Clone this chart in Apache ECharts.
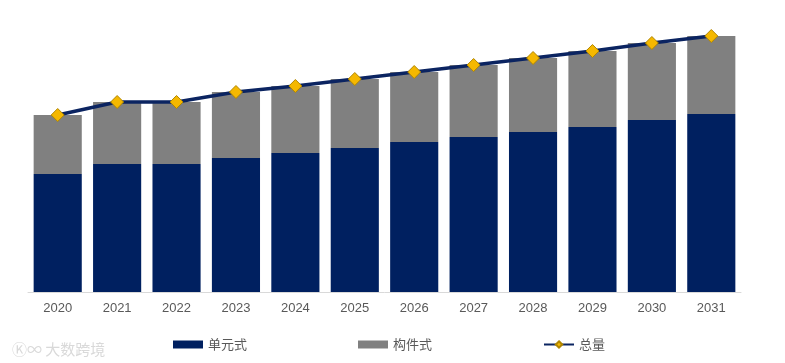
<!DOCTYPE html>
<html>
<head>
<meta charset="utf-8">
<script src="https://cdn.jsdelivr.net/npm/echarts@6/dist/echarts.min.js"></script>
<style>html,body{margin:0;padding:0;background:#fff}#c{width:785px;height:363px}</style>
</head>
<body>
<div id="c"></div>
<script>
const categories = ['2020','2021','2022','2023','2024','2025','2026','2027','2028','2029','2030','2031'];
const unitized = [11.8, 12.8, 12.8, 13.4, 13.9, 14.4, 15.0, 15.5, 16.0, 16.5, 17.2, 17.8];
const component = [5.9, 6.2, 6.2, 6.6, 6.7, 6.9, 7.0, 7.2, 7.4, 7.6, 7.7, 7.8];
const total = [17.7, 19.0, 19.0, 20.0, 20.6, 21.3, 22.0, 22.7, 23.4, 24.1, 24.9, 25.6];

const chart = echarts.init(document.getElementById('c'));
chart.setOption({
  animation: false,
  grid: { left: 28, right: 44, top: 22, bottom: 71 },
  legend: {
    bottom: 7,
    left: 168,
    itemGap: 111,
    itemWidth: 30,
    itemHeight: 8,
    textStyle: { color: '#595959', fontSize: 13, fontFamily: 'Noto Sans CJK SC' },
    data: [
      { name: '单元式', icon: 'rect' },
      { name: '构件式', icon: 'rect' },
      { name: '总量' }
    ]
  },
  xAxis: {
    type: 'category',
    data: categories,
    axisLine: { lineStyle: { color: '#d9d9d9', width: 1 } },
    axisTick: { show: false },
    axisLabel: { color: '#595959', fontSize: 13, margin: 10, fontFamily: 'Liberation Sans' }
  },
  yAxis: {
    type: 'value',
    min: 0,
    max: 27,
    show: false,
    splitLine: { show: false }
  },
  graphic: [{
    type: 'text',
    left: 12,
    bottom: 6,
    style: { text: 'Ⓚ∞ 大数跨境', fill: '#d9d9d9', font: '15px "Noto Sans CJK SC"' }
  }],
  series: [
    {
      name: '单元式', type: 'bar', stack: 'a', data: unitized, barWidth: '81%',
      itemStyle: { color: '#002060' }
    },
    {
      name: '构件式', type: 'bar', stack: 'a', data: component, barWidth: '81%',
      itemStyle: { color: '#808080' }
    },
    {
      name: '总量', type: 'line', data: total,
      symbol: 'diamond', symbolSize: 13,
      lineStyle: { color: '#0b2461', width: 3.5 },
      itemStyle: { color: '#f5b800', borderColor: '#b08600', borderWidth: 1 },
      z: 5
    }
  ]
});
</script>
</body>
</html>
